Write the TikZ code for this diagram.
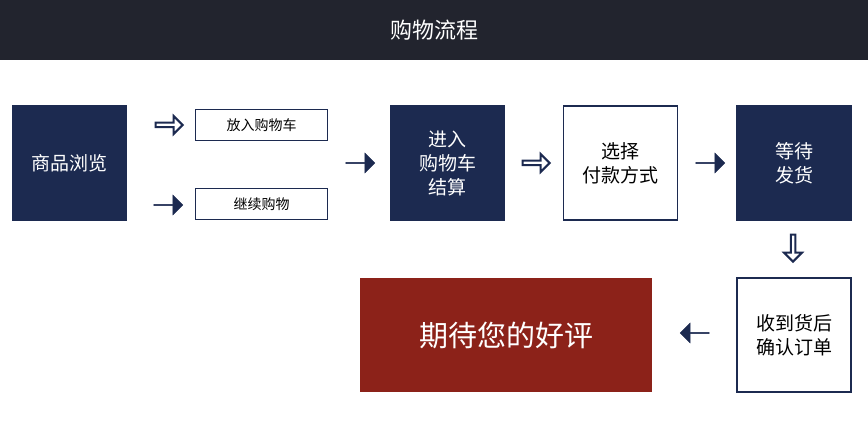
\documentclass[tikz,border=0pt]{standalone}
\usepackage{fontspec}
\setmainfont{Noto Sans CJK SC}
\usetikzlibrary{shapes.arrows}
\definecolor{navy}{HTML}{1C2A50}
\definecolor{bar}{HTML}{22242E}
\definecolor{wine}{HTML}{8C2219}
\begin{document}
\begin{tikzpicture}[x=1pt,y=-1pt,
  dbox/.style={draw=navy,fill=navy,line width=1.5pt,minimum width=114pt,minimum height=114pt,text=white,font=\fontsize{19}{24}\selectfont,align=center,inner sep=0pt},
  wbox/.style={draw=navy,fill=white,line width=1.5pt,minimum width=114pt,minimum height=114pt,text=black,font=\fontsize{19}{24}\selectfont,align=center,inner sep=0pt},
  sbox/.style={draw=navy,fill=white,line width=1.2pt,minimum width=132pt,minimum height=31pt,font=\fontsize{14}{16}\selectfont,inner sep=0pt},
  farr/.style={single arrow,fill=navy,draw=navy,minimum height=29pt,minimum width=20pt,single arrow head extend=3pt,inner sep=0pt},
  harr/.style={single arrow,fill=white,draw=navy,line width=2pt,minimum height=27pt,minimum width=18pt,single arrow head extend=3pt,inner sep=0pt}]
\useasboundingbox (0,0) rectangle (868,427);
\fill[white] (0,0) rectangle (868,427);
\fill[bar] (0,0) rectangle (868,60);
\node[text=white,font=\fontsize{22}{26}\selectfont] (title) at (434,30) {购物流程};
\node[dbox] (a) at (69.5,163) {商品浏览};
\node[sbox] (b1) at (261.5,125) {放入购物车};
\node[sbox] (b2) at (261.5,204) {继续购物};
\node[harr] (h1) at (168,125) {};
\node[farr] (f1) at (168,205) {};
\node[farr] (f2) at (360,163) {};
\node[dbox] (c) at (447.5,163) {进入\\购物车\\结算};
\node[harr] (h2) at (535,163) {};
\node[wbox] (d) at (620.5,163) {选择\\付款方式};
\node[farr] (f3) at (710,163) {};
\node[dbox] (e) at (794,163) {等待\\发货};
\node[harr,rotate=-90] (h3) at (793,247) {};
\node[wbox] (g) at (794,335) {收到货后\\确认订单};
\node[farr,rotate=180] (f4) at (695,333) {};
\node[fill=wine,minimum width=292pt,minimum height=114pt,text=white,font=\fontsize{29}{34}\selectfont,inner sep=0pt] (r) at (506,335) {期待您的好评};
\end{tikzpicture}
\end{document}
